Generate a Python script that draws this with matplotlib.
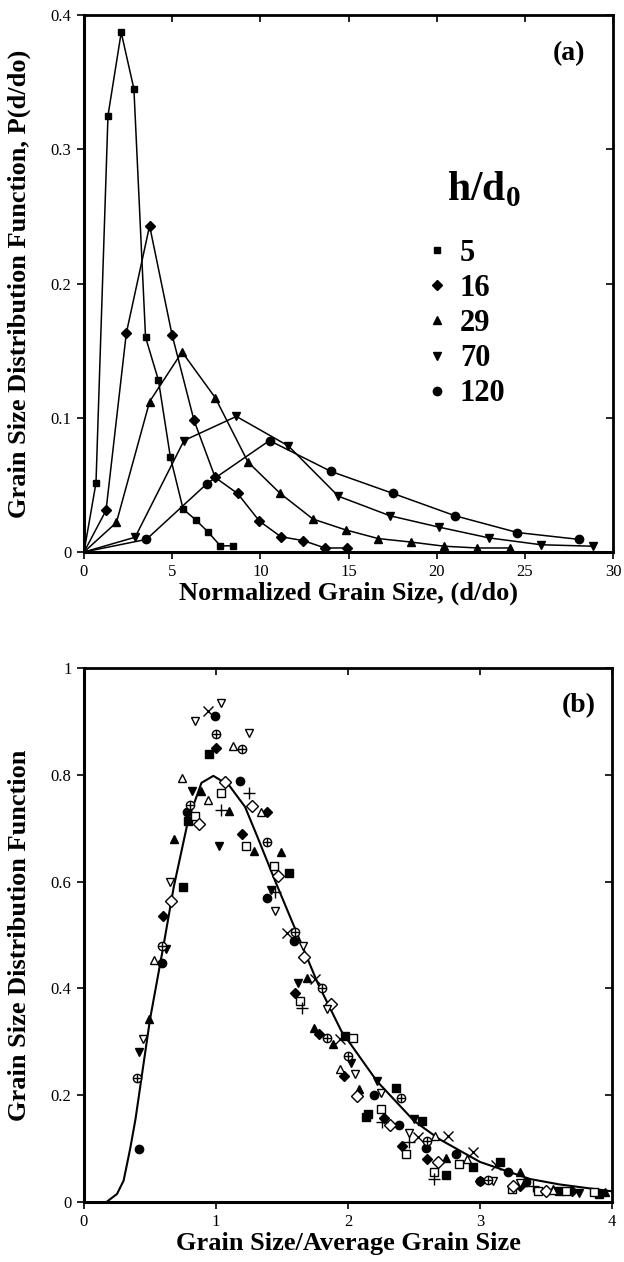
import matplotlib
matplotlib.use('Agg')
import matplotlib.pyplot as plt

plt.rcParams['font.family'] = ['Liberation Serif', 'DejaVu Serif']
plt.rcParams['mathtext.fontset'] = 'custom'
plt.rcParams['mathtext.rm'] = 'Liberation Serif'
plt.rcParams['mathtext.bf'] = 'Liberation Serif:bold'

# ---- panel (a): grain size distribution for several h/d0 ----
x5 = [0, 0.68, 1.36, 2.11, 2.83, 3.49, 4.22, 4.90, 5.62, 6.33, 7.03, 7.73, 8.44]
p5 = [0, 0.0515, 0.325, 0.387, 0.345, 0.160, 0.128, 0.0706, 0.032, 0.024, 0.015, 0.0046, 0.0046]
x16 = [0, 1.25, 2.40, 3.72, 4.99, 6.24, 7.44, 8.71, 9.95, 11.16, 12.43, 13.67, 14.94]
p16 = [0, 0.031, 0.163, 0.243, 0.162, 0.098, 0.0555, 0.0436, 0.023, 0.0114, 0.0085, 0.003, 0.003]
x29 = [0, 1.84, 3.72, 5.56, 7.44, 9.30, 11.13, 12.99, 14.83, 16.69, 18.55, 20.43, 22.29, 24.17]
p29 = [0, 0.022, 0.112, 0.149, 0.115, 0.067, 0.0436, 0.0245, 0.0165, 0.010, 0.0074, 0.0043, 0.003, 0.003]
x70 = [0, 2.9, 5.67, 8.64, 11.59, 14.42, 17.35, 20.14, 22.97, 25.92, 28.87]
p70 = [0, 0.011, 0.083, 0.101, 0.079, 0.0416, 0.027, 0.0185, 0.0105, 0.0054, 0.0043]
x120 = [0, 3.54, 6.98, 10.52, 14.01, 17.53, 21.04, 24.58, 28.07]
p120 = [0, 0.0094, 0.051, 0.083, 0.060, 0.0436, 0.027, 0.0145, 0.0094]

series_a = [('5', x5, p5, 's'), ('16', x16, p16, 'D'), ('29', x29, p29, '^'),
            ('70', x70, p70, 'v'), ('120', x120, p120, 'o')]

# ---- panel (b): scaled distributions ----
fit_x = [0.17, 0.25, 0.30, 0.35, 0.39, 0.50, 0.60, 0.68, 0.79, 0.89, 0.98, 1.10, 1.22, 1.32, 1.45,
         1.58, 1.77, 1.95, 2.22, 2.50, 2.69, 3.0, 3.38, 3.6, 4.0]
fit_y = [0.0, 0.015, 0.04, 0.10, 0.155, 0.342, 0.477, 0.59, 0.716, 0.785, 0.798, 0.78, 0.74, 0.68, 0.60,
         0.523, 0.41, 0.32, 0.226, 0.152, 0.118, 0.075, 0.043, 0.033, 0.02]

sq_f_x = [0.95, 0.79, 0.75, 1.55, 1.98, 2.15, 2.36, 2.14, 2.56, 2.74, 2.95, 3.15, 3.6, 3.9]
sq_f_y = [0.839, 0.713, 0.589, 0.617, 0.311, 0.164, 0.214, 0.159, 0.152, 0.051, 0.065, 0.074, 0.02, 0.015]
dia_f_x = [1.0, 1.2, 0.6, 1.39, 1.6, 1.78, 1.97, 2.27, 2.41, 2.6, 3.0, 3.3, 3.7]
dia_f_y = [0.85, 0.69, 0.535, 0.73, 0.392, 0.315, 0.236, 0.158, 0.105, 0.08, 0.04, 0.03, 0.02]
tri_f_x = [0.89, 1.1, 0.68, 1.29, 1.49, 0.49, 1.69, 1.74, 1.89, 2.08, 2.74, 3.30, 3.55, 3.95]
tri_f_y = [0.769, 0.733, 0.679, 0.657, 0.655, 0.342, 0.42, 0.325, 0.295, 0.211, 0.083, 0.056, 0.025, 0.018]
dtri_f_x = [0.82, 1.02, 0.62, 0.42, 1.42, 1.62, 2.02, 2.22, 2.5, 3.25, 3.75]
dtri_f_y = [0.769, 0.666, 0.473, 0.28, 0.585, 0.411, 0.261, 0.227, 0.155, 0.027, 0.017]
circ_f_x = [0.99, 1.18, 0.78, 0.59, 0.42, 1.39, 1.59, 2.2, 2.39, 2.59, 2.82, 3.0, 3.21, 3.35]
circ_f_y = [0.91, 0.789, 0.73, 0.448, 0.10, 0.57, 0.488, 0.2, 0.144, 0.102, 0.09, 0.04, 0.056, 0.037]
sq_o_x = [1.04, 0.84, 1.23, 1.44, 1.64, 2.04, 2.25, 2.44, 2.65, 2.84, 3.24, 3.44, 3.65, 3.86]
sq_o_y = [0.766, 0.722, 0.667, 0.63, 0.376, 0.308, 0.174, 0.09, 0.056, 0.071, 0.024, 0.021, 0.021, 0.018]
dia_o_x = [1.07, 1.27, 0.87, 0.66, 1.47, 1.67, 1.87, 2.07, 2.32, 2.68, 3.25, 3.5]
dia_o_y = [0.786, 0.741, 0.708, 0.563, 0.611, 0.459, 0.37, 0.199, 0.144, 0.074, 0.03, 0.02]
tri_o_x = [1.13, 0.74, 0.94, 1.34, 0.53, 1.94, 2.66, 2.9, 3.55]
tri_o_y = [0.853, 0.794, 0.753, 0.73, 0.454, 0.249, 0.124, 0.08, 0.022]
dtri_o_x = [1.04, 0.84, 1.25, 0.65, 0.45, 1.45, 1.66, 1.84, 2.05, 2.25, 2.46, 3.1, 3.3]
dtri_o_y = [0.934, 0.90, 0.878, 0.60, 0.306, 0.545, 0.479, 0.361, 0.239, 0.205, 0.13, 0.04, 0.035]
oplus_x = [1.0, 1.2, 0.8, 0.59, 0.4, 1.39, 1.6, 1.8, 1.84, 2.0, 2.4, 2.6, 3.06]
oplus_y = [0.877, 0.849, 0.743, 0.479, 0.233, 0.675, 0.506, 0.40, 0.308, 0.273, 0.194, 0.115, 0.041]
plus_x = [1.25, 1.04, 1.45, 1.65, 2.26, 2.46, 2.65, 3.4]
plus_y = [0.765, 0.735, 0.58, 0.364, 0.149, 0.112, 0.043, 0.03]
cross_x = [0.94, 1.54, 1.75, 1.94, 2.53, 2.76, 2.95, 3.12]
cross_y = [0.92, 0.504, 0.417, 0.305, 0.121, 0.124, 0.093, 0.07]

W, H = 624, 1262
fig = plt.figure(figsize=(W / 100, H / 100), dpi=100)
ax1 = fig.add_axes([84 / W, 1 - 552 / H, 529 / W, 537 / H])
ax2 = fig.add_axes([84 / W, 1 - 1202 / H, 528 / W, 534 / H])

lab_font = dict(fontsize=19, fontweight='bold')


def style_axes(ax, xt, yt, ylabs):
    ax.set_xticks(xt)
    ax.set_yticks(yt)
    ax.set_yticklabels(ylabs)
    ax.tick_params(direction='out', length=5, width=1.2, labelsize=12, pad=4)
    for side in ['left', 'bottom']:
        ax.spines[side].set_linewidth(2.2)
    for side in ['top', 'right']:
        ax.spines[side].set_linewidth(2.0)
    top = ax.secondary_xaxis('top')
    top.set_xticks(xt)
    top.tick_params(direction='in', length=5, width=1.2, labeltop=False)
    right = ax.secondary_yaxis('right')
    right.set_yticks(yt)
    right.tick_params(direction='in', length=5, width=1.2, labelright=False)


# panel (a)
handles = []
for lab, xs, ps, mk in series_a:
    ms = 5 if mk in ('s', 'D') else 6
    ax1.plot(xs, ps, color='black', lw=1.1, marker=mk, ms=ms, markevery=slice(1, None),
             mfc='black', mec='black')
    handles.append((lab, mk, ms))

ax1.set_xlim(0, 30)
ax1.set_ylim(0, 0.4)
style_axes(ax1, [0, 5, 10, 15, 20, 25, 30], [0, 0.1, 0.2, 0.3, 0.4], ['0', '0.1', '0.2', '0.3', '0.4'])
ax1.set_xlabel('Normalized Grain Size, (d/do)', labelpad=1, **lab_font)
ax1.set_ylabel('Grain Size Distribution Function, P(d/do)', **lab_font)
ax1.yaxis.set_label_coords(-0.10, 0.5)
ax1.text(27.5, 0.371, '(a)', ha='center', va='center', fontsize=20, fontweight='bold')

# legend: title as text, entries as a frameless legend
ax1.text(20.6, 0.27, 'h/d$_\\mathbf{0}$', ha='left', va='center', fontsize=30, fontweight='bold')
leg_handles = [plt.Line2D([], [], ls='none', marker=mk, ms=ms, color='black') for _, mk, ms in handles]
ax1.legend(leg_handles, [lab for lab, _, _ in handles], loc='upper left',
           bbox_to_anchor=(0.65, 0.583), borderaxespad=0, borderpad=0, frameon=False,
           handlelength=0.6, handletextpad=0.45, labelspacing=0.2,
           prop=dict(size=22, weight='bold'))

# panel (b)
ax2.plot(fit_x, fit_y, color='black', lw=1.5)
ms = 6
filled = [(sq_f_x, sq_f_y, 's'), (dia_f_x, dia_f_y, 'D'), (tri_f_x, tri_f_y, '^'),
          (dtri_f_x, dtri_f_y, 'v'), (circ_f_x, circ_f_y, 'o')]
for xs, ys, mk in filled:
    ax2.plot(xs, ys, ls='none', marker=mk, ms=ms - (1 if mk == 'D' else 0), color='black')
hollow = [(sq_o_x, sq_o_y, 's'), (dia_o_x, dia_o_y, 'D'), (tri_o_x, tri_o_y, '^'),
          (dtri_o_x, dtri_o_y, 'v'), (oplus_x, oplus_y, 'o')]
for xs, ys, mk in hollow:
    ax2.plot(xs, ys, ls='none', marker=mk, ms=ms, mfc='white', mec='black', mew=1.0)
ax2.plot(oplus_x, oplus_y, ls='none', marker='+', ms=ms, color='black', mew=1.0)
ax2.plot(plus_x, plus_y, ls='none', marker='+', ms=8, color='black', mew=1.0)
ax2.plot(cross_x, cross_y, ls='none', marker='x', ms=7, color='black', mew=1.0)

ax2.set_xlim(0, 4)
ax2.set_ylim(0, 1)
style_axes(ax2, [0, 1, 2, 3, 4], [0, 0.2, 0.4, 0.6, 0.8, 1], ['0', '0.2', '0.4', '0.6', '0.8', '1'])
ax2.set_xlabel('Grain Size/Average Grain Size', labelpad=1, **lab_font)
ax2.set_ylabel('Grain Size Distribution Function', **lab_font)
ax2.yaxis.set_label_coords(-0.10, 0.5)
ax2.text(3.75, 0.93, '(b)', ha='center', va='center', fontsize=20, fontweight='bold')

fig.savefig('out.png', dpi=100)
